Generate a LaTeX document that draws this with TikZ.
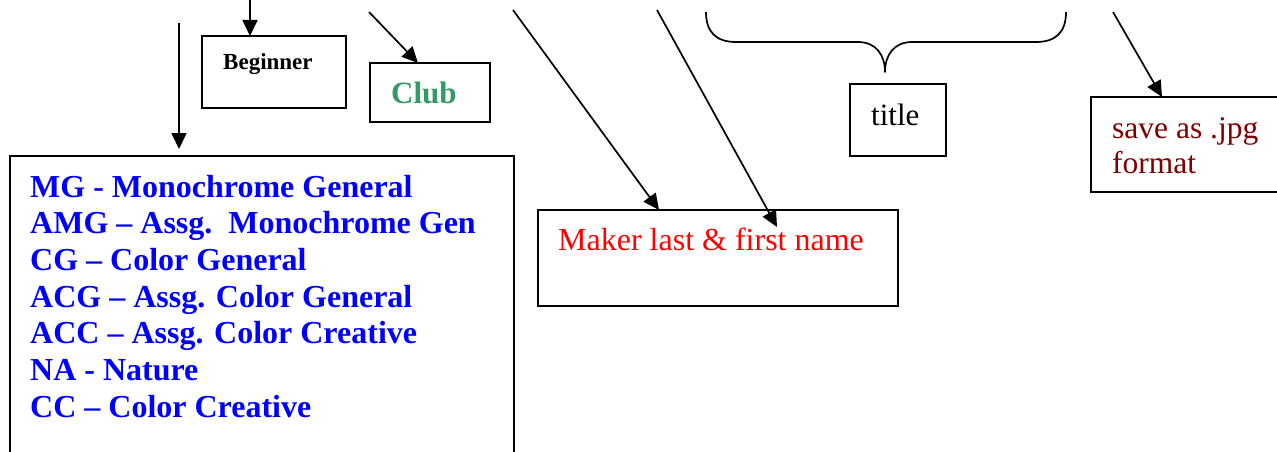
\documentclass[tikz,border=0pt]{standalone}
\usepackage{fontspec}
\setmainfont{Liberation Serif}
\usetikzlibrary{arrows.meta,calc}
\definecolor{clubgreen}{RGB}{51,153,102}
\definecolor{darkred}{RGB}{128,0,0}
\begin{document}
\begin{tikzpicture}[x=1pt,y=-1pt,
  box/.style={draw=black,line width=2pt,anchor=north west,inner sep=0pt,outer sep=0pt},
  arr/.style={draw=black,line width=1.7pt,-{Triangle[length=16pt,width=15pt]}},
  txt/.style={anchor=base west,inner sep=0pt}]
\useasboundingbox (0,0) rectangle (1277,452);
% boxes
\node[box,minimum width=144,minimum height=72] (beg) at (202,36) {};
\node[box,minimum width=120,minimum height=59] (club) at (370,63) {};
\node[box,minimum width=504,minimum height=320] (cat) at (10,156) {};
\node[box,minimum width=360,minimum height=96] (maker) at (538,210) {};
\node[box,minimum width=96,minimum height=72] (title) at (850,84) {};
\node[box,minimum width=200,minimum height=95] (save) at (1091,97) {};
% texts
\node[txt,font=\fontsize{23}{27}\selectfont\bfseries] (tbeg) at (223,70) {Beginner};
\node[txt,font=\fontsize{31}{35}\selectfont\bfseries,text=clubgreen] (tclub) at (391,103) {Club};
\begin{scope}[font=\fontsize{32}{36.7}\selectfont\bfseries,text=blue]
\node[txt] (l1) at (30,197) {MG - Monochrome General};
\node[txt] (l2) at (30,233.7) {AMG – Assg.\ \ Monochrome Gen};
\node[txt] (l3) at (30,270.4) {CG – Color General};
\node[txt] (l4) at (30,307.1) {ACG – Assg. Color General};
\node[txt] (l5) at (30,343.8) {ACC – Assg. Color Creative};
\node[txt] (l6) at (30,380.5) {NA - Nature};
\node[txt] (l7) at (30,417.2) {CC – Color Creative};
\end{scope}
\node[txt,font=\fontsize{32}{36}\selectfont,text=red] (tmaker) at (558,250) {Maker last \& first name};
\node[txt,font=\fontsize{31}{36}\selectfont] (ttitle) at (871,125) {title};
\node[txt,font=\fontsize{31.5}{35}\selectfont,text=darkred] (ts1) at (1112,138) {save as .jpg};
\node[txt,font=\fontsize{31.5}{35}\selectfont,text=darkred] (ts2) at (1112,173) {format};
% free ends of connectors
\coordinate (a1) at (250,0);
\coordinate (a2) at (179,23);
\coordinate (a3) at (369,12);
\coordinate (a4) at (513,10);
\coordinate (a5) at (657,10);
\coordinate (a6) at (1113,12);
% connectors
\draw[arr] (a1) -- (a1 |- beg.north);
\draw[arr] (a2) -- (179,149);
\draw[arr] (a3) -- ($(club.north west)+(48,0)$);
\draw[arr] (a4) -- ($(maker.north west)+(121,0)$);
\draw[arr] (a5) -- ($(maker.north west)+(239,17)$);
\draw[arr] (a6) -- ($(save.north west)+(71,0)$);
% brace
\draw[line width=1.7pt,line join=round]
  (706,12) .. controls (706,32) and (716,42) .. (736,42)
  -- (858,42) .. controls (876,42) and (885,55) .. (885,72)
  .. controls (885,55) and (894,42) .. (912,42)
  -- (1036,42) .. controls (1056,42) and (1066,32) .. (1066,12);
\end{tikzpicture}
\end{document}
